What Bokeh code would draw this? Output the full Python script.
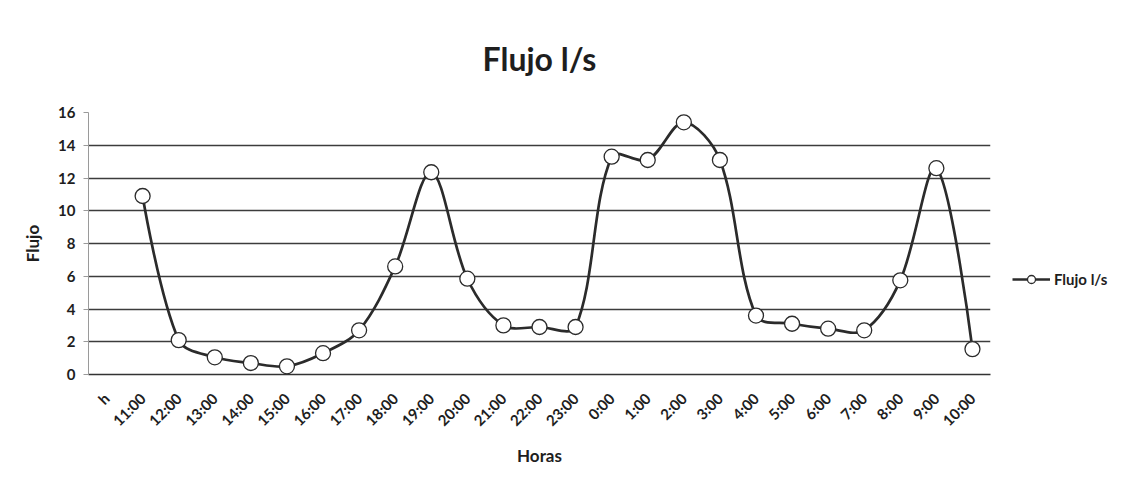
import math
from bokeh.plotting import figure
from bokeh.models import FixedTicker, Legend, LegendItem, Range1d, ColumnDataSource
from bokeh.embed import file_html
from bokeh.resources import INLINE

hours = ["h", "11:00", "12:00", "13:00", "14:00", "15:00", "16:00", "17:00", "18:00",
         "19:00", "20:00", "21:00", "22:00", "23:00", "0:00", "1:00", "2:00", "3:00",
         "4:00", "5:00", "6:00", "7:00", "8:00", "9:00", "10:00"]
flow_hours = hours[1:]
flow = [10.9, 2.1, 1.05, 0.7, 0.5, 1.3, 2.7, 6.6, 12.35, 5.85, 3.0, 2.9, 2.9,
        13.3, 13.1, 15.4, 13.1, 3.6, 3.1, 2.8, 2.7, 5.75, 12.6, 1.55]
y_ticks = [0, 2, 4, 6, 8, 10, 12, 14, 16]

FONT = "Lato"
DARK = "#2b2b2b"
TXT = "#1e1e1e"
FRAME_W, FRAME_H = 902, 262

xs = [hours.index(h) for h in flow_hours]
ys = flow

# Smoothed line (Excel-like): cubic Bezier segments whose control points are
# scaled by neighbouring segment lengths measured in screen space.
sx = FRAME_W / len(hours)
sy = FRAME_H / 16.0


def dist(i, j):
    return math.hypot((xs[j] - xs[i]) * sx, (ys[j] - ys[i]) * sy)


n = len(xs)
seg = dict(x0=[], y0=[], x1=[], y1=[], cx0=[], cy0=[], cx1=[], cy1=[])
for i in range(n - 1):
    a = i - 1 if i > 0 else i
    d = i + 2 if i + 2 < n else i + 1
    d_cur = dist(i, i + 1)
    d_prev = dist(a, i)
    d_next = dist(i + 1, d)
    f0 = d_cur / (d_prev + d_cur) / 3.0 if d_prev > 0 else 0.0
    f1 = d_cur / (d_cur + d_next) / 3.0 if d_next > 0 else 0.0
    seg["x0"].append(xs[i]); seg["y0"].append(ys[i])
    seg["x1"].append(xs[i + 1]); seg["y1"].append(ys[i + 1])
    seg["cx0"].append(xs[i] + (xs[i + 1] - xs[a]) * f0)
    seg["cy0"].append(ys[i] + (ys[i + 1] - ys[a]) * f0)
    seg["cx1"].append(xs[i + 1] - (xs[d] - xs[i]) * f1)
    seg["cy1"].append(ys[i + 1] - (ys[d] - ys[i]) * f1)

p = figure(frame_width=FRAME_W, frame_height=FRAME_H, output_backend="svg",
           toolbar_location=None,
           x_range=Range1d(-0.5, len(hours) - 0.5), y_range=Range1d(0, 16),
           min_border_left=88, min_border_right=118, min_border_top=112,
           min_border_bottom=97)

p.title.text = "Flujo l/s"
p.title.align = "center"
p.title.text_font = FONT
p.title.text_font_size = "32px"
p.title.text_font_style = "bold"
p.title.text_color = TXT
p.title.standoff = 70

p.outline_line_color = None
p.xgrid.grid_line_color = None
p.ygrid.grid_line_color = "#3c3c3c"
p.ygrid.grid_line_width = 1.3

p.yaxis.ticker = FixedTicker(ticks=y_ticks)
p.yaxis.axis_line_color = "#9a9a9a"
p.yaxis.major_tick_out = 5
p.yaxis.major_tick_in = 0
p.yaxis.major_tick_line_color = "#9a9a9a"
p.yaxis.minor_tick_line_color = None
p.yaxis.major_label_text_font = FONT
p.yaxis.major_label_text_font_style = "bold"
p.yaxis.major_label_text_font_size = "15px"
p.yaxis.major_label_text_color = TXT
p.yaxis.major_label_standoff = 8
p.yaxis.axis_label = "Flujo"
p.yaxis.axis_label_text_font = FONT
p.yaxis.axis_label_text_font_style = "bold"
p.yaxis.axis_label_text_font_size = "17px"
p.yaxis.axis_label_text_color = TXT
p.yaxis.axis_label_standoff = 12

p.xaxis.ticker = FixedTicker(ticks=list(range(len(hours))))
p.xaxis.major_label_overrides = {i: h for i, h in enumerate(hours)}
p.xaxis.major_label_orientation = math.pi / 4
p.xaxis.axis_line_color = "#333333"
p.xaxis.axis_line_width = 1.3
p.xaxis.major_tick_line_color = None
p.xaxis.minor_tick_line_color = None
p.xaxis.major_label_text_font = FONT
p.xaxis.major_label_text_font_style = "bold"
p.xaxis.major_label_text_font_size = "15px"
p.xaxis.major_label_text_color = TXT
p.xaxis.major_label_standoff = 15
p.xaxis.axis_label = "Horas"
p.xaxis.axis_label_text_font = FONT
p.xaxis.axis_label_text_font_style = "bold"
p.xaxis.axis_label_text_font_size = "17px"
p.xaxis.axis_label_text_color = TXT
p.xaxis.axis_label_standoff = 6

src = ColumnDataSource(dict(x=xs, y=ys))
curve = p.bezier(source=ColumnDataSource(seg), x0="x0", y0="y0", x1="x1", y1="y1",
                 cx0="cx0", cy0="cy0", cx1="cx1", cy1="cy1",
                 line_color=DARK, line_width=2.7)
pts = p.scatter(x="x", y="y", source=src, size=15, fill_color="white",
                line_color=DARK, line_width=1.3)

legend = Legend(items=[LegendItem(label="Flujo l/s", renderers=[curve, pts])],
                location=(22, 85), border_line_color=None, background_fill_alpha=0,
                label_text_font=FONT, label_text_font_style="bold",
                label_text_font_size="15px", label_text_color=TXT,
                glyph_width=38, label_standoff=4, padding=4, margin=0)
p.add_layout(legend, "right")

open("out.html", "w").write(file_html(p, INLINE))
